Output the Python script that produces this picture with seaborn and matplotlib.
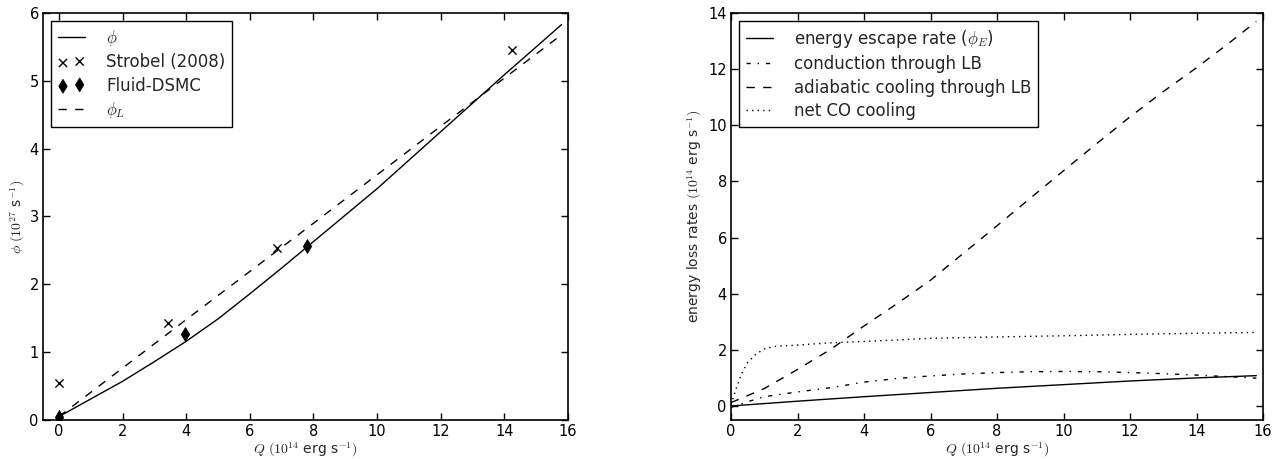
import numpy as np
import pandas as pd
import matplotlib
matplotlib.use("Agg")
import matplotlib.pyplot as plt
import seaborn as sns

# ---- Left panel data ----
q_phi = [0, 1, 2, 3, 4, 5, 6, 7, 8, 9, 10, 11, 12, 13, 14, 15, 15.8]
phi = [0.05, 0.31, 0.57, 0.86, 1.16, 1.49, 1.86, 2.24, 2.63, 3.02, 3.41, 3.83, 4.25, 4.67, 5.09, 5.50, 5.83]
q_phiL = [0, 4, 8, 12, 15.8]
phiL = [0.05, 1.48, 2.90, 4.33, 5.68]
q_strobel = [0, 3.42, 6.86, 14.25]
phi_strobel = [0.54, 1.43, 2.54, 5.46]
q_dsmc = [0, 3.95, 7.8]
phi_dsmc = [0.05, 1.27, 2.57]

# ---- Right panel data ----
q_esc = [0, 2, 4, 6, 8, 10, 12, 14, 15.8]
esc = [0.0, 0.17, 0.33, 0.48, 0.63, 0.76, 0.89, 1.00, 1.08]
q_cond = [0, 0.5, 1, 2, 3, 4, 5, 6, 7, 8, 9, 10, 11, 12, 13, 14, 15, 15.8]
cond = [-0.05, 0.15, 0.33, 0.50, 0.65, 0.85, 0.98, 1.07, 1.14, 1.19, 1.22, 1.23, 1.22, 1.19, 1.15, 1.10, 1.04, 0.99]
q_adi = [0, 1, 2, 3, 4, 5, 6, 7, 8, 9, 10, 11, 12, 13, 14, 15, 15.8]
adi = [0.12, 0.62, 1.30, 2.02, 2.85, 3.65, 4.48, 5.45, 6.42, 7.40, 8.38, 9.35, 10.30, 11.20, 12.05, 12.95, 13.70]
q_co = [0, 0.15, 0.3, 0.5, 0.75, 1.0, 1.3, 2, 3, 4, 5, 6, 8, 10, 12, 14, 15.8]
co = [0.05, 0.60, 1.10, 1.55, 1.85, 2.03, 2.12, 2.17, 2.25, 2.30, 2.35, 2.41, 2.46, 2.50, 2.55, 2.59, 2.62]

xticks = [0, 2, 4, 6, 8, 10, 12, 14, 16]

sns.set_style("ticks")
plt.rcParams.update({
    "font.family": ["DejaVu Sans"],
    "mathtext.fontset": "cm",
    "xtick.direction": "in",
    "ytick.direction": "in",
    "xtick.top": True,
    "ytick.right": True,
    "xtick.major.size": 5,
    "ytick.major.size": 5,
    "xtick.major.width": 1,
    "ytick.major.width": 1,
    "xtick.major.pad": 3,
    "ytick.major.pad": 3,
    "axes.linewidth": 1.2,
    "axes.edgecolor": "black",
    "xtick.color": "black",
    "ytick.color": "black",
    "xtick.labelsize": 10.5,
    "ytick.labelsize": 10.5,
    "axes.labelsize": 10,
    "legend.fontsize": 12,
})

fig = plt.figure(figsize=(12.78, 4.59), dpi=100)
ax1 = fig.add_axes([43 / 1278, 1 - 420 / 459, (568 - 43) / 1278, (420 - 13) / 459])
ax2 = fig.add_axes([731 / 1278, 1 - 420 / 459, (1263 - 731) / 1278, (420 - 13) / 459])

# Left panel
sns.lineplot(x=q_phi, y=phi, ax=ax1, color="k", lw=1, label=r"$\phi$")
sns.scatterplot(x=q_strobel, y=phi_strobel, ax=ax1, marker="x", color="k", s=35,
                linewidth=1, label="Strobel (2008)")
sns.scatterplot(x=q_dsmc, y=phi_dsmc, ax=ax1, marker="d", color="k", s=50,
                edgecolor="k", label="Fluid-DSMC")
sns.lineplot(x=q_phiL, y=phiL, ax=ax1, color="k", lw=1, label=r"$\phi_L$")
ax1.lines[-1].set_dashes([6, 6])

ax1.set_xlim(-0.5, 16)
ax1.set_ylim(0, 6)
ax1.set_xticks(xticks)
ax1.set_yticks([0, 1, 2, 3, 4, 5, 6])
ax1.set_xlabel(r"$Q\ (10^{14}$ erg s$^{-1})$", labelpad=1)
ax1.set_ylabel(r"$\phi\ (10^{27}$ s$^{-1})$", labelpad=2)
h, l = ax1.get_legend_handles_labels()
order = [l.index(r"$\phi$"), l.index("Strobel (2008)"), l.index("Fluid-DSMC"), l.index(r"$\phi_L$")]
leg1 = ax1.legend([h[i] for i in order], [l[i] for i in order], loc="upper left",
                  frameon=True, fancybox=False, framealpha=1, edgecolor="k",
                  scatterpoints=2, handlelength=1.6, handletextpad=1.3,
                  labelspacing=0.32, borderaxespad=0.5)
leg1.get_frame().set_linewidth(1)

# Right panel
sns.lineplot(x=q_esc, y=esc, ax=ax2, color="k", lw=1, label=r"energy escape rate ($\phi_E$)")
sns.lineplot(x=q_cond, y=cond, ax=ax2, color="k", lw=1, label="conduction through LB")
ax2.lines[-1].set_dashes([3, 5, 1, 5])
sns.lineplot(x=q_adi, y=adi, ax=ax2, color="k", lw=1, label="adiabatic cooling through LB")
ax2.lines[-1].set_dashes([6, 6])
sns.lineplot(x=q_co, y=co, ax=ax2, color="k", lw=1, label="net CO cooling")
ax2.lines[-1].set_dashes([1, 3])

ax2.set_xlim(0, 16)
ax2.set_ylim(-0.5, 14)
ax2.set_xticks(xticks)
ax2.set_yticks([0, 2, 4, 6, 8, 10, 12, 14])
ax2.set_xlabel(r"$Q\ (10^{14}$ erg s$^{-1})$", labelpad=1)
ax2.set_ylabel(r"energy loss rates $(10^{14}$ erg s$^{-1})$", labelpad=3)
leg2 = ax2.legend(loc="upper left", frameon=True, fancybox=False, framealpha=1,
                  edgecolor="k", handlelength=1.6, handletextpad=1.3,
                  labelspacing=0.32, borderaxespad=0.5)
leg2.get_frame().set_linewidth(1)

fig.savefig("out.png", dpi=100)
